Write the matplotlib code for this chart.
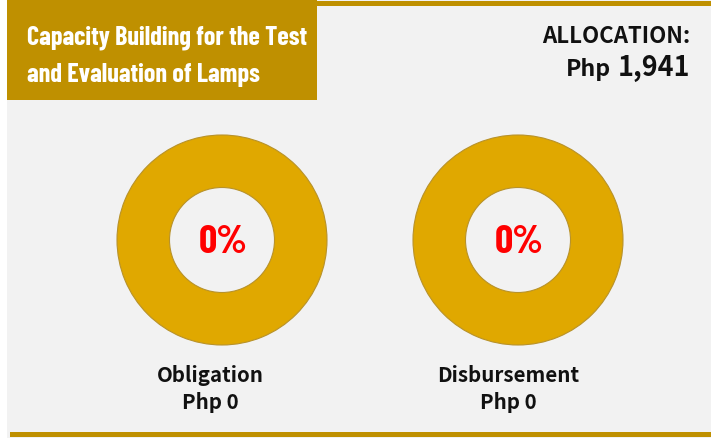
import matplotlib
matplotlib.use("Agg")
import matplotlib.pyplot as plt
from matplotlib.patches import Rectangle
from matplotlib import font_manager as fm
from matplotlib.textpath import TextPath

# ---- data ----
title_lines = ["Capacity Building for the Test", "and Evaluation of Lamps"]
allocation = 1941
categories = ["Obligation", "Disbursement"]
amounts = [0, 0]

GOLD = "#BF9000"
DONUT = "#E0A800"
BG = "#F2F2F2"
INK = "#111111"

names = {f.name for f in fm.fontManager.ttflist}


def pick(cands, default):
    for c in cands:
        if c in names:
            return c
    return default


narrow = pick(["Liberation Sans Narrow", "Arial Narrow", "Barlow Condensed",
               "Roboto Condensed", "Archivo Narrow"], "DejaVu Sans")
nweight = "bold"
jp = ["Noto Sans CJK JP", "DejaVu Sans"]

W, H = 711, 439
DPI = 100
fig = plt.figure(figsize=(W / DPI, H / DPI), dpi=DPI)
fig.patch.set_facecolor("white")
ax = fig.add_axes([0, 0, 1, 1])

# donuts
centers = [(222, 241), (518, 241)]
R = 105
pct_texts = []
for (cx, cy), amt in zip(centers, amounts):
    vals = [amt, allocation - amt]
    wedges, _ = ax.pie(vals, colors=["#7F6000", DONUT], radius=R, center=(cx, cy),
                       startangle=90, counterclock=False,
                       wedgeprops=dict(width=R * 0.5, edgecolor="#B8922A", linewidth=0.8))
    for w, v in zip(wedges, vals):
        if v == 0:
            w.set_visible(False)
    pct = amt / allocation * 100
    pct_texts.append(ax.text(cx + 1, 253, f"{pct:.0f}%", ha="center", va="baseline",
                             color="#FF0000", fontsize=29, fontweight=nweight,
                             family=narrow, zorder=5))

ax.set_xlim(0, W)
ax.set_ylim(H, 0)
ax.set_aspect("equal")
ax.axis("off")

# background panel
ax.add_patch(Rectangle((7, 0), W - 7, H, facecolor=BG, edgecolor="none", zorder=-10))
ax.add_patch(Rectangle((7, 2), W - 7, 5, facecolor=GOLD, edgecolor="none", zorder=-5))
ax.add_patch(Rectangle((7, 0), 310, 101, facecolor=GOLD, edgecolor="none", zorder=-4))
ax.add_patch(Rectangle((10, 433), W - 10, 5, facecolor=GOLD, edgecolor="none", zorder=-4))

t1 = ax.text(27, 45, title_lines[0], color="white", fontsize=21, fontweight=nweight,
             family=narrow, ha="left", va="baseline")
t2 = ax.text(27, 82, title_lines[1], color="white", fontsize=21, fontweight=nweight,
             family=narrow, ha="left", va="baseline")

ta = ax.text(690, 43, "ALLOCATION:", color=INK, fontsize=15, fontweight="bold",
             family=jp, ha="right", va="baseline")
tn = ax.text(690, 76, f"{allocation:,}", color=INK, fontsize=19, fontweight="bold",
             family=jp, ha="right", va="baseline")
tp = ax.text(611, 76, "Php", color=INK, fontsize=15, fontweight="bold",
             family=jp, ha="right", va="baseline")

label_x = [210, 508]
lab = []
for lx, name, amt in zip(label_x, categories, amounts):
    a = ax.text(lx, 382, name, color=INK, fontsize=14, fontweight="bold",
                family=jp, ha="center", va="baseline")
    b = ax.text(lx, 409, f"Php {amt:,}", color=INK, fontsize=14, fontweight="bold",
                family=jp, ha="center", va="baseline")
    lab.append((a, b))


def fit(t, target):
    fig.canvas.draw()
    w = t.get_window_extent().width
    t.set_fontsize(t.get_fontsize() * target / w)


def fit_cap(t, cap_px, max_w):
    fp = t.get_fontproperties().copy()
    fp.set_size(100)
    ratio = TextPath((0, 0), "H", prop=fp).get_extents().height / 100.0
    size = cap_px / (ratio * DPI / 72.0)
    t.set_fontsize(size)
    fig.canvas.draw()
    w = t.get_window_extent().width
    if w > max_w:
        t.set_fontsize(size * max_w / w)


fit_cap(t1, 20, 280)
t2.set_fontsize(t1.get_fontsize())
for p in pct_texts:
    fit_cap(p, 28, 52)
fit(ta, 148)
fit(tn, 72)
fit(tp, 45)
fit(lab[0][0], 105)
fit(lab[1][0], 144)
fs = (lab[0][0].get_fontsize() + lab[1][0].get_fontsize()) / 2
for a, b in lab:
    a.set_fontsize(fs)
    b.set_fontsize(fs)

fig.savefig("out.png", dpi=DPI, facecolor=fig.get_facecolor())
